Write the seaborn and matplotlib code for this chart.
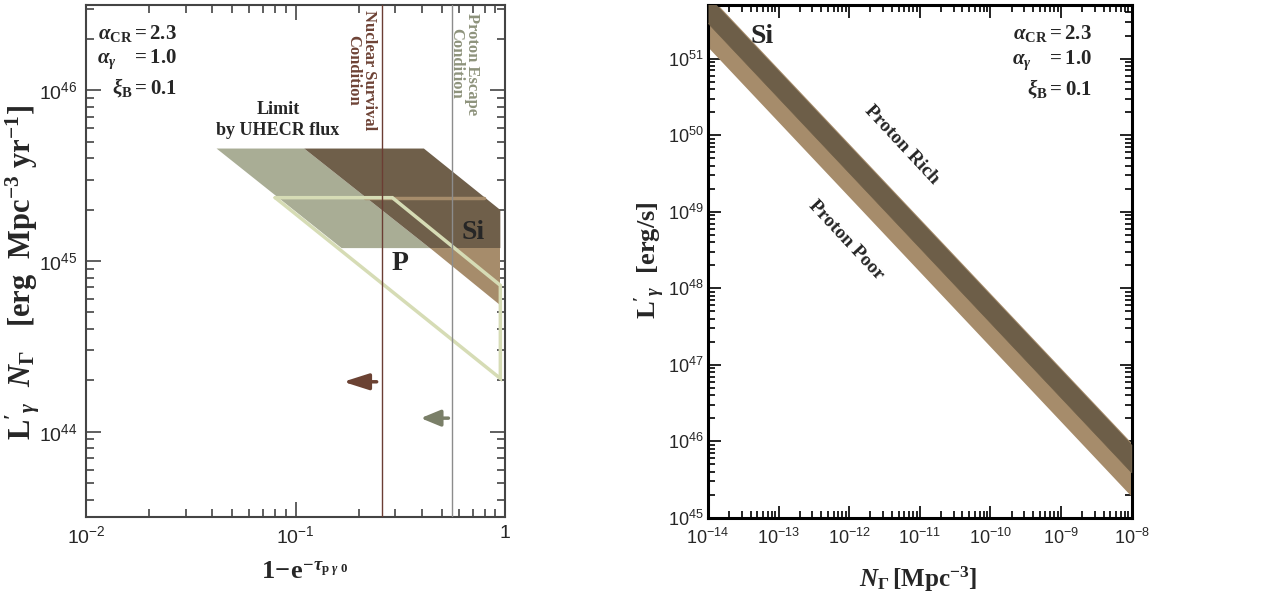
import numpy as np
import matplotlib
matplotlib.use("Agg")
import matplotlib.pyplot as plt
import seaborn as sns
import pandas as pd
from matplotlib.ticker import LogLocator, FixedLocator, FuncFormatter, NullFormatter

# ---------------- data ----------------
# Left panel: regions in (1 - exp(-tau), L' N) plane
p_region_x = [0.042, 0.110, 0.438, 0.166]
p_region_y = [4.56e45, 4.56e45, 1.19e45, 1.19e45]
si_upper_x = [0.110, 0.41, 0.95, 0.95, 0.438]
si_upper_y = [4.56e45, 4.56e45, 1.99e45, 1.19e45, 1.19e45]
si_lower_x = [0.438, 0.95, 0.95]
si_lower_y = [1.19e45, 1.19e45, 5.5e44]
si_stripe_x = [0.215, 0.794]
si_stripe_y = [2.33e45, 2.33e45]
p_outline_x = [0.080, 0.29, 0.95, 0.95, 0.080]
p_outline_y = [2.35e45, 2.35e45, 7.2e44, 2.05e44, 2.35e45]
nuclear_x = 0.259
escape_x = 0.558
arrow_nuc = [(0.244, 1.96e44), (0.169, 1.96e44)]
arrow_esc = [(0.537, 1.20e44), (0.396, 1.20e44)]

# Right panel: L' vs N_Gamma bands
n_gamma = [1e-14, 1e-8]
band_lower = [1.41e51, 1.9e45]
band_mid = [2.9e51, 3.9e45]
band_upper = [6.9e51, 9.5e45]
band_upper_dark = [6.6e51, 9.1e45]

params_text = [r"$\alpha_{\mathrm{CR}}\mathrm{= 2.3}$",
               r"$\alpha_{\gamma}\ \ \ \mathrm{= 1.0}$",
               r"$\xi_{\mathrm{B}}\mathrm{= 0.1}$"]

# ---------------- colours ----------------
C_GREEN = "#a9ad95"
C_DARK = "#6f5f4a"
C_TAN = "#a68c6b"
C_OUT = "#d6dcb5"
C_NUC = "#6b3d33"
C_ESC = "#8c8c8c"
C_NUC_T = "#6e4336"
C_ESC_T = "#8e937c"
C_ARR1 = "#6b4233"
C_ARR2 = "#7a7f68"

sns.set_theme(style="ticks")
plt.rcParams.update({
    "font.family": ["Liberation Serif", "DejaVu Sans"],
    "mathtext.fontset": "custom",
    "mathtext.rm": "Liberation Serif:bold",
    "mathtext.it": "Liberation Serif:italic:bold",
    "mathtext.bf": "Liberation Serif:bold",
    "mathtext.sf": "Liberation Sans",
})

fig = plt.figure(figsize=(12.73, 5.97), dpi=100)
axL = fig.add_axes([86/1273, 1-517/597, (505-86)/1273, (517-5)/597])
axR = fig.add_axes([708/1273, 1-518/597, (1131.7-708)/1273, (518-5)/597])


def sf_fmt(v, pos):
    e = int(round(np.log10(v)))
    if e == 0:
        return r"$\mathsf{1}$"
    return r"$\mathsf{10^{%d}}$" % e


# ---------------- left panel ----------------
ax = axL
ax.set_xscale("log")
ax.set_yscale("log")
ax.fill(p_region_x, p_region_y, color=C_GREEN, lw=0, zorder=2)
ax.fill(si_upper_x, si_upper_y, color=C_DARK, lw=0, zorder=3)
ax.fill(si_lower_x, si_lower_y, color=C_TAN, lw=0, zorder=3)
sns.lineplot(x=si_stripe_x, y=si_stripe_y, ax=ax, color=C_TAN, lw=2.5,
             sort=False, estimator=None, zorder=4)
ax.plot(p_outline_x, p_outline_y, color=C_OUT, lw=2.5, zorder=5,
        solid_joinstyle="miter")
ax.axvline(nuclear_x, color=C_NUC, lw=1.0, zorder=6)
ax.axvline(escape_x, color=C_ESC, lw=1.0, zorder=6)
ax.annotate("", xy=arrow_nuc[1], xytext=arrow_nuc[0],
            arrowprops=dict(arrowstyle="-|>,head_length=1.1,head_width=0.35",
                            mutation_scale=14, lw=2.5, color=C_ARR1,
                            shrinkA=0, shrinkB=0), zorder=7)
ax.annotate("", xy=arrow_esc[1], xytext=arrow_esc[0],
            arrowprops=dict(arrowstyle="-|>,head_length=0.85,head_width=0.35",
                            mutation_scale=14, lw=2.5, color=C_ARR2,
                            shrinkA=0, shrinkB=0), zorder=7)
ax.set_xlim(1e-2, 1)
ax.set_ylim(10**43.5, 10**46.5)

ax.xaxis.set_major_locator(FixedLocator([1e-2, 1e-1, 1]))
ax.xaxis.set_minor_locator(LogLocator(base=10, subs=np.arange(2, 10)))
ax.yaxis.set_major_locator(FixedLocator([1e44, 1e45, 1e46]))
ax.yaxis.set_minor_locator(LogLocator(base=10, subs=np.arange(2, 10)))
ax.xaxis.set_major_formatter(FuncFormatter(sf_fmt))
ax.yaxis.set_major_formatter(FuncFormatter(sf_fmt))
ax.xaxis.set_minor_formatter(NullFormatter())
ax.yaxis.set_minor_formatter(NullFormatter())
ax.tick_params(which="both", direction="in", top=True, right=True,
               color="#444444", labelsize=14, width=1.2)
ax.tick_params(which="major", length=11, pad=6)
ax.tick_params(which="minor", length=6)
for s in ax.spines.values():
    s.set_color("#444444")
    s.set_linewidth(1.5)

for t, yy in zip(params_text, [0.945, 0.895, 0.838]):
    ax.text(0.217, yy, t, transform=ax.transAxes, ha="right", va="center",
            fontsize=15)
ax.text(0.458, 0.775, "Limit\nby UHECR flux", transform=ax.transAxes,
        ha="center", va="center", fontsize=13, fontweight="bold",
        linespacing=1.3)
ax.text(0.6575, 0.99, "Nuclear Survival\nCondition", transform=ax.transAxes,
        ha="center", va="top", rotation=-90, fontsize=12, fontweight="bold",
        color=C_NUC_T, linespacing=1.0)
ax.text(0.903, 0.985, "Proton Escape\nCondition", transform=ax.transAxes,
        ha="center", va="top", rotation=-90, fontsize=12, fontweight="bold",
        color=C_ESC_T, linespacing=1.0)
ax.text(0.924, 0.555, "Si", transform=ax.transAxes, ha="center",
        va="center", fontsize=20, fontweight="bold", zorder=8)
ax.text(0.749, 0.496, "P", transform=ax.transAxes, ha="center",
        va="center", fontsize=20, fontweight="bold", zorder=8)

fig.text(23/1273, 1-272/597,
         r"$\mathrm{L}'_{\gamma}\ \ N_{\Gamma}\ \ \ \mathrm{[erg\ \ Mpc^{-3}\ yr^{-1}]}$",
         rotation=90, ha="center", va="center", fontsize=22)
fig.text(305/1273, 1-573/597,
         r"$\mathrm{1\!-\!e}^{-\tau_{\mathrm{p}\ \gamma\ \mathrm{0}}}$",
         ha="center", va="center", fontsize=19)

# ---------------- right panel ----------------
ax = axR
ax.set_xscale("log")
ax.set_yscale("log")
df = pd.DataFrame({"N": n_gamma, "lo": band_lower, "mid": band_mid,
                   "hi": band_upper, "hi2": band_upper_dark})
ax.fill_between(df["N"], df["lo"], df["hi"], color=C_TAN, lw=0, zorder=2)
ax.fill_between(df["N"], df["mid"], df["hi2"], color="#6d5e48", lw=0, zorder=3)
sns.lineplot(data=df, x="N", y="mid", ax=ax, color="#6d5e48", lw=0.5,
             zorder=3)
ax.set_xlim(1e-14, 1e-8)
ax.set_ylim(1e45, 10**51.7)
ax.xaxis.set_major_locator(FixedLocator([10.0**e for e in range(-14, -7)]))
ax.xaxis.set_minor_locator(LogLocator(base=10, subs=np.arange(2, 10)))
ax.yaxis.set_major_locator(FixedLocator([10.0**e for e in range(45, 52)]))
ax.yaxis.set_minor_locator(LogLocator(base=10, subs=np.arange(2, 10)))
ax.xaxis.set_major_formatter(FuncFormatter(sf_fmt))
ax.yaxis.set_major_formatter(FuncFormatter(sf_fmt))
ax.xaxis.set_minor_formatter(NullFormatter())
ax.yaxis.set_minor_formatter(NullFormatter())
ax.tick_params(which="both", direction="in", top=True, right=True,
               color="black", labelsize=13, width=1.2)
ax.tick_params(which="major", length=9, pad=3)
ax.tick_params(which="minor", length=5)
ax.tick_params(axis="x", which="major", pad=7)
for s in ax.spines.values():
    s.set_color("black")
    s.set_linewidth(2.2)
ax.set_xlabel("")
ax.set_ylabel("")

for t, yy in zip(params_text, [0.945, 0.893, 0.838]):
    ax.text(0.906, yy, t, transform=ax.transAxes, ha="right", va="center",
            fontsize=15)
ax.text(0.127, 0.938, "Si", transform=ax.transAxes, ha="center",
        va="center", fontsize=20, fontweight="bold", zorder=8)
ax.text(0.457, 0.727, "Proton Rich", transform=ax.transAxes, ha="center",
        va="center", fontsize=14, fontweight="bold", rotation=-47)
ax.text(0.325, 0.542, "Proton Poor", transform=ax.transAxes, ha="center",
        va="center", fontsize=14, fontweight="bold", rotation=-47)

fig.text(650/1273, 1-260/597, r"$\mathrm{L}'_{\gamma}\ \ \mathrm{[erg/s]}$",
         rotation=90, ha="center", va="center", fontsize=19)
fig.text(918/1273, 1-579/597, r"$N_{\Gamma}\,\mathrm{[Mpc^{-3}]}$",
         ha="center", va="center", fontsize=18)

fig.savefig("out.png", dpi=100, facecolor="white")
